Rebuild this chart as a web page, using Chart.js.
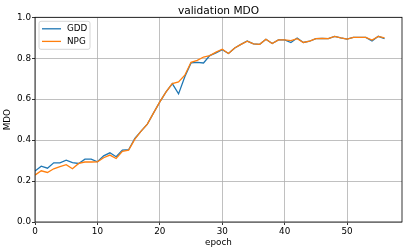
<!DOCTYPE html>
<html>
<head>
<meta charset="utf-8">
<script src="https://cdn.jsdelivr.net/npm/chart.js@4.4.1/dist/chart.umd.min.js"></script>
<style>
  html, body { margin: 0; padding: 0; background: #fff; }
  #chart { display: block; }
</style>
</head>
<body>
<canvas id="chart" width="407" height="252"></canvas>
<script>
// epochs on the x axis
const epochs = [0, 1, 2, 3, 4, 5, 6, 7, 8, 9, 10, 11, 12, 13, 14, 15, 16, 17, 18, 19,
    20, 21, 22, 23, 24, 25, 26, 27, 28, 29, 30, 31, 32, 33, 34, 35, 36, 37, 38, 39,
    40, 41, 42, 43, 44, 45, 46, 47, 48, 49, 50, 51, 52, 53, 54, 55, 56];

// validation MDO per epoch
const gddValues = [0.249, 0.273, 0.263, 0.289, 0.289, 0.302, 0.290, 0.286, 0.307, 0.307,
    0.294, 0.323, 0.338, 0.319, 0.351, 0.353, 0.408, 0.444, 0.478, 0.533,
    0.587, 0.636, 0.676, 0.626, 0.710, 0.777, 0.780, 0.777, 0.813, 0.826,
    0.842, 0.823, 0.850, 0.868, 0.884, 0.870, 0.868, 0.893, 0.872, 0.890,
    0.890, 0.877, 0.899, 0.877, 0.883, 0.896, 0.897, 0.896, 0.907, 0.899,
    0.893, 0.902, 0.902, 0.902, 0.884, 0.907, 0.896];
const npgValues = [0.229, 0.250, 0.242, 0.260, 0.270, 0.280, 0.260, 0.286, 0.293, 0.293,
    0.294, 0.314, 0.327, 0.310, 0.345, 0.351, 0.405, 0.444, 0.478, 0.533,
    0.587, 0.636, 0.676, 0.684, 0.717, 0.780, 0.790, 0.806, 0.813, 0.830,
    0.844, 0.823, 0.850, 0.868, 0.883, 0.870, 0.868, 0.893, 0.872, 0.890,
    0.890, 0.886, 0.896, 0.877, 0.884, 0.896, 0.897, 0.896, 0.907, 0.899,
    0.893, 0.902, 0.902, 0.902, 0.889, 0.907, 0.899];

const xTickStep = 10;
const yTickStep = 0.2;

const FONT = 'DejaVu Sans';

function toPoints(values) {
    return epochs.map((e, i) => ({ x: e, y: values[i] }));
}

// matplotlib-like frame around the axes and a boxed legend in the upper left
const framePlugin = {
    id: 'frame',
    afterDatasetsDraw(chart) {
        const { ctx, chartArea } = chart;
        ctx.save();
        ctx.strokeStyle = '#000';
        ctx.lineWidth = 0.8;
        ctx.strokeRect(chartArea.left, chartArea.top,
            chartArea.right - chartArea.left, chartArea.bottom - chartArea.top);

        // legend
        const x0 = chartArea.left + 4, y0 = chartArea.top + 4;
        const w = 51, h = 28, r = 2;
        ctx.beginPath();
        ctx.moveTo(x0 + r, y0);
        ctx.arcTo(x0 + w, y0, x0 + w, y0 + h, r);
        ctx.arcTo(x0 + w, y0 + h, x0, y0 + h, r);
        ctx.arcTo(x0, y0 + h, x0, y0, r);
        ctx.arcTo(x0, y0, x0 + w, y0, r);
        ctx.closePath();
        ctx.fillStyle = 'rgba(255,255,255,0.8)';
        ctx.fill();
        ctx.strokeStyle = '#cccccc';
        ctx.lineWidth = 0.8;
        ctx.stroke();

        ctx.font = '8.8px "' + FONT + '"';
        ctx.textBaseline = 'middle';
        ctx.textAlign = 'left';
        chart.data.datasets.forEach((ds, i) => {
            const ly = y0 + 7.5 + i * 12.6;
            ctx.beginPath();
            ctx.moveTo(x0 + 3, ly);
            ctx.lineTo(x0 + 22, ly);
            ctx.strokeStyle = ds.borderColor;
            ctx.lineWidth = ds.borderWidth;
            ctx.stroke();
            ctx.fillStyle = '#000';
            ctx.fillText(ds.label, x0 + 28, ly);
        });
        ctx.restore();
    }
};

const ctx = document.getElementById('chart').getContext('2d');
new Chart(ctx, {
    type: 'line',
    data: {
        datasets: [{
            label: 'GDD',
            data: toPoints(gddValues),
            borderColor: '#1f77b4',
            borderWidth: 1.3,
            pointRadius: 0,
            tension: 0,
            order: 1
        }, {
            label: 'NPG',
            data: toPoints(npgValues),
            borderColor: '#ff7f0e',
            borderWidth: 1.3,
            pointRadius: 0,
            tension: 0,
            order: 0
        }]
    },
    options: {
        responsive: false,
        devicePixelRatio: 1,
        animation: false,
        layout: {
            padding: { left: 0, right: 5, top: 0, bottom: 0 }
        },
        scales: {
            x: {
                type: 'linear',
                min: 0,
                max: 58.8,
                border: { display: false },
                grid: {
                    color: '#b0b0b0',
                    lineWidth: 0.8,
                    tickColor: '#000',
                    tickLength: 3
                },
                ticks: {
                    stepSize: xTickStep,
                    includeBounds: false,
                    color: '#000',
                    padding: 1,
                    maxRotation: 0,
                    font: { family: FONT, size: 8.8 }
                },
                title: {
                    display: true,
                    text: 'epoch',
                    color: '#000',
                    padding: { top: 0, bottom: 4 },
                    font: { family: FONT, size: 8.8 }
                },
                afterFit(scale) { scale.height = 30; }
            },
            y: {
                min: 0,
                max: 1,
                border: { display: false },
                grid: {
                    color: '#b0b0b0',
                    lineWidth: 0.8,
                    tickColor: '#000',
                    tickLength: 3
                },
                ticks: {
                    stepSize: yTickStep,
                    color: '#000',
                    padding: 1,
                    font: { family: FONT, size: 8.8 },
                    callback: function(value) {
                        return value.toFixed(1);
                    }
                },
                title: {
                    display: true,
                    text: 'MDO',
                    color: '#000',
                    padding: { top: 2, bottom: 0 },
                    font: { family: FONT, size: 8.8 }
                },
                afterFit(scale) { scale.width = 35; }
            }
        },
        plugins: {
            legend: { display: false },
            tooltip: { enabled: false },
            title: {
                display: true,
                text: 'validation MDO',
                color: '#000',
                fullSize: false,
                padding: { top: 6, bottom: 0.7 },
                font: { family: FONT, size: 10.6, weight: 'normal', lineHeight: 1 }
            }
        }
    },
    plugins: [framePlugin]
});
</script>
</body>
</html>
